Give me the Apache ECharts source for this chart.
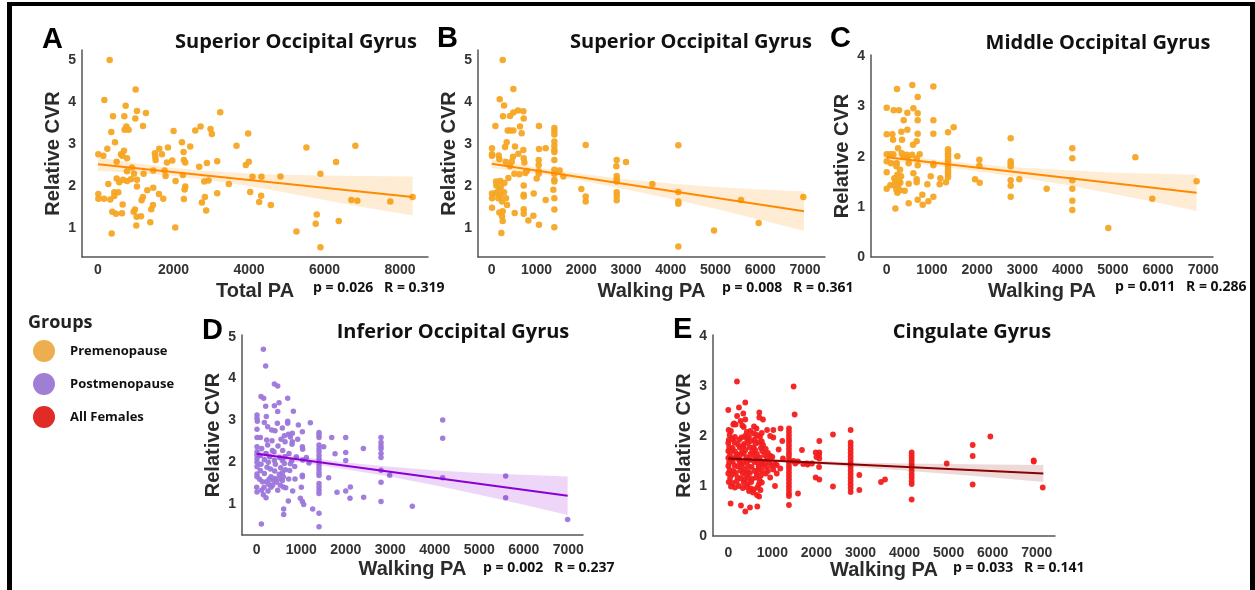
<!DOCTYPE html>
<html>
<head>
<meta charset="utf-8">
<script src="https://cdn.jsdelivr.net/npm/echarts@6/dist/echarts.min.js"></script>
<style>
	html, body { margin: 0; background: #fff; }
	#chart { width: 1255px; height: 590px; }
</style>
</head>
<body>
<div id="chart"></div>
<script>
// ---- data ----
const groups = ['Premenopause', 'Postmenopause', 'All Females'];
const panelLetters = ['A', 'B', 'C', 'D', 'E'];
const panelTitles = ['Superior Occipital Gyrus', 'Superior Occipital Gyrus', 'Middle Occipital Gyrus', 'Inferior Occipital Gyrus', 'Cingulate Gyrus'];
const xNames = ['Total PA', 'Walking PA', 'Walking PA', 'Walking PA', 'Walking PA'];
const stats = ['p = 0.026   R = 0.319', 'p = 0.008   R = 0.361', 'p = 0.011   R = 0.286', 'p = 0.002   R = 0.237', 'p = 0.033   R = 0.141'];

const totalTicks = [0, 2000, 4000, 6000, 8000];
const walkTicks = [0, 1000, 2000, 3000, 4000, 5000, 6000, 7000];
const cvrTicks15 = [1, 2, 3, 4, 5];
const cvrTicks04 = [0, 1, 2, 3, 4];

const aPoints = [
	[309,5.00],[997,4.30],[168,4.05],[732,3.91],[1032,3.79],[1270,3.74],[3237,3.76],[397,3.66],[697,3.66],[988,3.61],
	[1191,3.43],[750,3.42],[353,3.29],[706,3.34],[811,3.34],[2002,3.31],[2576,3.32],[2717,3.42],[2981,3.36],[3016,3.24],
	[3978,3.25],[450,3.04],[2223,3.04],[2443,2.94],[3669,2.96],[5521,2.92],[6818,2.96],[247,2.89],[688,2.84],[1852,2.92],
	[1623,2.89],[9,2.76],[141,2.72],[609,2.76],[644,2.72],[768,2.66],[1508,2.78],[1517,2.70],[1693,2.76],[1526,2.62],
	[1967,2.61],[1826,2.56],[2267,2.81],[2275,2.62],[2311,2.56],[2884,2.55],[3158,2.59],[494,2.58],[2681,2.46],[3916,2.50],
	[3996,2.58],[6306,2.57],[900,2.44],[1464,2.37],[1764,2.37],[953,2.29],[768,2.35],[1208,2.29],[2249,2.26],[4093,2.22],
	[4331,2.22],[4834,2.23],[5892,2.29],[494,2.18],[1790,2.24],[767,2.12],[564,2.09],[662,2.15],[873,2.16],[1032,2.15],
	[2055,2.12],[2814,2.11],[2928,2.13],[273,2.05],[1032,1.99],[1464,1.96],[2311,1.99],[2293,1.92],[3466,2.05],[1305,1.90],
	[4031,1.86],[432,1.85],[538,1.85],[3158,1.83],[1614,1.81],[9,1.81],[1191,1.74],[2831,1.74],[4322,1.77],[9,1.70],
	[159,1.70],[326,1.68],[432,1.76],[1729,1.70],[2275,1.69],[1155,1.66],[6712,1.67],[6871,1.65],[7744,1.63],[8335,1.74],
	[2752,1.61],[4269,1.62],[4578,1.55],[653,1.56],[1455,1.55],[1411,1.45],[2866,1.42],[379,1.39],[476,1.34],[635,1.35],
	[979,1.44],[944,1.39],[1023,1.27],[1138,1.28],[5795,1.32],[1385,1.14],[5768,1.10],[6377,1.17],[1014,1.06],[2046,1.01],
	[5257,0.92],[362,0.87],[5892,0.54]
];
const aLine = [[0, 2.52], [8335, 1.74]];
const aBandX = [0, 1000, 2000, 3000, 4000, 5000, 6000, 7000, 8335];
const aBandHi = [2.68, 2.55, 2.43, 2.35, 2.30, 2.27, 2.25, 2.24, 2.23];
const aBandLo = [2.36, 2.31, 2.24, 2.13, 2.00, 1.84, 1.67, 1.50, 1.30];

const bPoints = [
	[246,5.00],[484,4.31],[179,4.07],[276,3.92],[588,3.80],[707,3.78],[484,3.75],[253,3.66],[410,3.67],[715,3.61],
	[82,3.43],[633,3.42],[1057,3.43],[357,3.32],[410,3.32],[484,3.32],[1400,3.38],[1400,3.31],[1400,3.23],[670,3.26],
	[335,3.04],[1400,3.06],[1400,2.96],[2100,2.98],[4170,2.97],[521,2.94],[298,2.93],[7,2.90],[1057,2.88],[1206,2.90],
	[707,2.86],[1400,2.86],[7,2.76],[156,2.73],[596,2.77],[1400,2.81],[7,2.72],[476,2.70],[171,2.64],[715,2.66],
	[1050,2.62],[2793,2.62],[3001,2.57],[313,2.58],[2785,2.47],[1050,2.50],[447,2.58],[730,2.56],[1400,2.62],[410,2.47],
	[1400,2.39],[1400,2.29],[1519,2.37],[782,2.36],[752,2.31],[506,2.29],[618,2.28],[1050,2.35],[1050,2.29],[1601,2.23],
	[372,2.19],[1005,2.18],[2793,2.24],[2793,2.16],[1400,2.15],[194,2.12],[1400,2.11],[97,2.11],[283,2.07],[2793,2.11],
	[3590,2.05],[104,2.01],[715,2.01],[201,1.97],[2003,1.93],[149,1.88],[82,1.83],[1378,1.91],[2793,1.85],[4170,1.86],
	[276,1.85],[7,1.82],[715,1.79],[938,1.82],[194,1.77],[715,1.75],[2100,1.75],[2793,1.77],[7,1.71],[149,1.71],
	[320,1.71],[1400,1.71],[1206,1.67],[5570,1.67],[6963,1.74],[231,1.63],[2100,1.63],[2793,1.66],[4170,1.63],[4170,1.58],
	[343,1.55],[7,1.48],[715,1.45],[1400,1.44],[246,1.40],[171,1.37],[514,1.36],[715,1.34],[931,1.29],[231,1.28],
	[246,1.17],[819,1.18],[1057,1.08],[5965,1.12],[1400,1.02],[4967,0.94],[216,0.88],[4170,0.56]
];
const bLine = [[0, 2.53], [6978, 1.40]];
const bBandX = [0, 1000, 2000, 3000, 4000, 5000, 6000, 6978];
const bBandHi = [2.63, 2.44, 2.29, 2.16, 2.06, 1.98, 1.92, 1.87];
const bBandLo = [2.43, 2.30, 2.13, 1.92, 1.70, 1.46, 1.20, 0.93];

const cPoints = [
	[567,3.43],[1032,3.40],[228,3.35],[685,3.19],[0,2.98],[155,2.93],[273,2.93],[457,2.88],[590,2.97],[685,2.87],
	[376,2.73],[685,2.73],[1032,2.73],[0,2.45],[125,2.45],[324,2.50],[457,2.54],[685,2.46],[1032,2.46],[1356,2.49],
	[1481,2.59],[2741,2.37],[140,2.34],[339,2.34],[582,2.24],[663,2.31],[251,2.17],[1356,2.15],[1356,2.11],[1356,2.06],
	[4104,2.17],[5497,1.99],[4104,1.97],[1562,2.01],[0,2.05],[81,2.05],[147,2.05],[332,2.07],[442,2.04],[464,1.99],
	[560,2.04],[729,2.05],[663,1.97],[368,2.00],[1356,2.01],[1356,1.95],[2048,1.94],[0,1.91],[96,1.87],[221,1.87],
	[486,1.87],[685,1.83],[1032,1.86],[1032,1.83],[1356,1.91],[1356,1.85],[2048,1.82],[2741,1.91],[2741,1.86],[2741,1.81],
	[214,1.81],[295,1.74],[1356,1.80],[1356,1.74],[1356,1.69],[0,1.69],[236,1.64],[590,1.67],[317,1.61],[1356,1.64],
	[1356,1.59],[973,1.61],[1186,1.57],[169,1.57],[663,1.55],[663,1.49],[1953,1.55],[2932,1.55],[2741,1.53],[4104,1.53],
	[6852,1.51],[192,1.51],[280,1.51],[302,1.48],[1311,1.49],[2056,1.48],[81,1.43],[155,1.43],[251,1.43],[486,1.46],
	[899,1.45],[1171,1.45],[2741,1.42],[0,1.36],[214,1.34],[295,1.33],[398,1.32],[3537,1.36],[4104,1.36],[236,1.28],
	[788,1.24],[1032,1.20],[2741,1.20],[685,1.14],[921,1.11],[4104,1.12],[5872,1.16],[486,1.07],[796,1.04],[192,0.97],
	[4104,0.94],[4900,0.58]
];
const cLine = [[0, 1.99], [6852, 1.28]];
const cBandX = [0, 1000, 2000, 3000, 4000, 5000, 6000, 6852];
const cBandHi = [2.07, 1.95, 1.85, 1.78, 1.73, 1.68, 1.66, 1.64];
const cBandLo = [1.91, 1.83, 1.71, 1.58, 1.43, 1.26, 1.08, 0.92];

const dPoints = [
	[150,4.70],[202,4.30],[397,3.87],[472,3.82],[97,3.57],[157,3.53],[696,3.53],[502,3.42],[397,3.35],[202,3.34],
	[824,3.22],[472,3.21],[7,3.13],[7,3.05],[217,3.09],[696,2.98],[696,2.93],[1205,2.94],[4178,3.01],[15,2.98],
	[172,2.95],[464,2.93],[936,2.89],[247,2.85],[577,2.82],[7,2.79],[337,2.77],[412,2.75],[1026,2.73],[1400,2.71],
	[1400,2.65],[1400,2.59],[801,2.69],[711,2.67],[622,2.63],[756,2.60],[1685,2.59],[2000,2.59],[2793,2.59],[2793,2.47],
	[4178,2.57],[7,2.59],[82,2.59],[225,2.53],[344,2.51],[547,2.55],[921,2.55],[637,2.49],[247,2.41],[479,2.39],
	[801,2.49],[793,2.43],[2793,2.39],[1026,2.37],[1400,2.41],[1400,2.33],[1505,2.37],[7,2.37],[112,2.33],[352,2.28],
	[584,2.28],[389,2.25],[2396,2.33],[2793,2.32],[2793,2.21],[7,2.25],[210,2.21],[1033,2.31],[1400,2.25],[2000,2.23],
	[1760,2.20],[726,2.21],[7,2.17],[82,2.16],[292,2.13],[517,2.11],[637,2.13],[891,2.13],[1116,2.11],[1400,2.16],
	[1400,2.08],[2793,2.11],[7,2.08],[172,2.06],[397,2.04],[577,2.04],[786,2.03],[1033,2.05],[2000,2.04],[7,2.00],
	[262,2.00],[622,1.97],[1175,1.98],[1400,2.00],[97,1.95],[419,1.95],[756,1.96],[1400,1.91],[7,1.89],[232,1.88],
	[539,1.87],[854,1.90],[1400,1.83],[307,1.84],[644,1.82],[82,1.80],[404,1.79],[741,1.80],[2793,1.81],[7,1.72],
	[172,1.73],[509,1.71],[577,1.75],[1400,1.75],[2987,1.69],[7,1.65],[322,1.65],[599,1.65],[1026,1.69],[1400,1.68],
	[1617,1.63],[4178,1.63],[5593,1.67],[412,1.61],[502,1.61],[719,1.60],[861,1.60],[67,1.59],[277,1.59],[374,1.57],
	[1026,1.65],[127,1.53],[217,1.53],[449,1.52],[577,1.56],[1400,1.49],[2793,1.52],[269,1.47],[359,1.45],[531,1.45],
	[599,1.41],[0,1.40],[165,1.40],[322,1.40],[652,1.39],[1003,1.40],[1400,1.41],[2104,1.41],[1400,1.33],[472,1.33],
	[112,1.33],[7,1.29],[254,1.31],[809,1.31],[1804,1.28],[2000,1.31],[1400,1.25],[150,1.22],[210,1.15],[5593,1.15],
	[2403,1.16],[2096,1.14],[981,1.14],[711,1.07],[1026,1.06],[2793,1.06],[1056,0.99],[3496,0.95],[606,0.88],[1258,0.88],
	[606,0.75],[1400,0.78],[105,0.52],[1400,0.46],[6985,0.63]
];
const dLine = [[0, 2.20], [6985, 1.20]];
const dBandX = [0, 1000, 2000, 3000, 4000, 5000, 6000, 6985];
const dBandHi = [2.29, 2.13, 1.99, 1.89, 1.81, 1.74, 1.70, 1.66];
const dBandLo = [2.11, 1.99, 1.83, 1.65, 1.45, 1.22, 0.98, 0.74];

const ePoints = [
	[197,3.09],[1483,2.99],[1506,2.43],[386,2.67],[242,2.57],[341,2.45],[0,2.52],[704,2.47],[787,2.33],[704,2.37],
	[114,2.23],[167,2.23],[386,2.33],[318,2.21],[583,2.19],[8,2.12],[1188,2.15],[1022,2.12],[2777,2.12],[2376,2.03],
	[5948,1.99],[5547,1.82],[5547,1.60],[2066,1.90],[1022,1.97],[1226,1.90],[1672,1.72],[1143,1.73],[1983,1.67],[2066,1.67],
	[2066,1.55],[1786,1.45],[1582,1.49],[4957,1.45],[6932,1.51],[6932,1.49],[2974,1.22],[3557,1.13],[3466,1.08],[2066,1.13],
	[1983,1.17],[2376,0.99],[2974,0.92],[5547,1.03],[7137,0.97],[1582,0.85],[53,0.65],[288,0.61],[492,0.57],[386,0.49],
	[659,0.59],[4162,0.73],
	[30,2.02],[150,1.98],[300,1.97],[380,2.00],[470,1.99],[650,2.02],[720,1.98],
	[10,1.92],[90,1.94],[250,1.93],[420,1.95],[510,1.90],[600,1.93],[760,1.89],
	[0,1.86],[140,1.87],[220,1.83],[360,1.84],[440,1.88],[620,1.85],[700,1.87],[790,1.82],
	[20,1.78],[100,1.76],[260,1.77],[340,1.80],[480,1.78],[570,1.77],[740,1.76],[850,1.74],
	[0,1.70],[70,1.72],[150,1.69],[310,1.68],[390,1.72],[540,1.69],[610,1.72],[770,1.70],[900,1.66],
	[40,1.63],[190,1.64],[270,1.62],[350,1.65],[500,1.63],[580,1.61],[650,1.64],[820,1.62],[960,1.60],
	[0,1.56],[80,1.54],[160,1.57],[240,1.53],[410,1.57],[490,1.52],[640,1.54],[710,1.57],[880,1.55],[1000,1.58],
	[20,1.47],[100,1.49],[260,1.48],[340,1.46],[420,1.49],[590,1.48],[670,1.46],[750,1.49],[830,1.45],[940,1.47],[1060,1.44],
	[0,1.40],[140,1.41],[220,1.39],[300,1.42],[450,1.40],[530,1.38],[690,1.39],[770,1.42],[860,1.38],[980,1.40],[1100,1.42],
	[30,1.32],[120,1.30],[280,1.31],[360,1.34],[440,1.29],[600,1.30],[680,1.33],[760,1.31],[900,1.30],[1020,1.33],
	[0,1.25],[90,1.23],[170,1.26],[330,1.25],[410,1.23],[490,1.26],[650,1.24],[740,1.21],[850,1.25],
	[40,1.16],[210,1.17],[290,1.15],[370,1.13],[460,1.16],[540,1.14],[630,1.17],[710,1.12],[950,1.17],
	[10,1.08],[100,1.06],[190,1.09],[350,1.07],[440,1.04],[520,1.08],[690,1.03],[760,1.07],
	[60,0.99],[150,0.97],[240,1.00],[330,0.96],[420,0.98],[510,0.95],[580,0.93],[660,0.97],[730,0.92],
	[470,0.90],[560,0.87],[650,0.82],[700,0.79],
	[60,2.10],[130,2.25],[200,2.40],[280,2.30],[350,2.18],[420,2.08],[500,2.10],[580,2.05],[640,2.15],[760,2.06],[880,2.12],[950,2.00],
	[1377,2.15],[1377,2.08],[1377,2.01],[1377,1.94],[1377,1.88],[1377,1.81],[1377,1.74],[1377,1.67],[1377,1.61],[1377,1.54],
	[1377,1.47],[1377,1.40],[1377,1.34],[1377,1.27],[1377,1.20],[1377,1.13],[1377,1.06],[1377,0.99],[1377,0.92],[1377,0.85],[1377,0.80],[1377,0.62],
	[1480,1.50],[1520,1.45],[1700,1.44],[1800,1.43],[1900,1.45],[2000,1.58],[2060,1.62],[2060,1.38],[1240,1.55],[1180,1.35],[1100,1.25],[1060,1.00],
	[2777,1.87],[2777,1.80],[2777,1.73],[2777,1.66],[2777,1.59],[2777,1.52],[2777,1.45],[2777,1.38],
	[2777,1.31],[2777,1.24],[2777,1.17],[2777,1.10],[2777,1.03],[2777,0.96],[2777,0.88],
	[4162,1.67],[4162,1.61],[4162,1.55],[4162,1.49],[4162,1.43],[4162,1.37],[4162,1.30],[4162,1.23],[4162,1.17],[4162,1.10],[4162,1.04]
];
const eLine = [[0, 1.55], [7150, 1.25]];
const eBandX = [0, 1000, 2000, 3000, 4000, 5000, 6000, 7150];
const eBandHi = [1.59, 1.54, 1.50, 1.47, 1.45, 1.44, 1.43, 1.42];
const eBandLo = [1.51, 1.48, 1.44, 1.37, 1.31, 1.24, 1.17, 1.08];

// ---- layout / styling ----
const TICK_FONT = '"Liberation Sans", Arial, sans-serif';
const TITLE_FONT = '"Open Sans", sans-serif';
const INK = '#333';

const panels = [
	{ grid: { left: 82, top: 50, width: 346, height: 207 }, x: [-424, 8742], y: [0.31, 5.24], xt: totalTicks, yt: cvrTicks15,
		pts: aPoints, line: aLine, bx: aBandX, hi: aBandHi, lo: aBandLo, dot: '#F6A523', size: 6.5, lc: '#FF8A00', band: 'rgba(255,140,0,0.17)',
		letter: [42, 40], title: [296, 42], stat: [313, 288], xMargin: 6 },
	{ grid: { left: 478, top: 50, width: 347, height: 207 }, x: [-306, 7447], y: [0.31, 5.24], xt: walkTicks, yt: cvrTicks15,
		pts: bPoints, line: bLine, bx: bBandX, hi: bBandHi, lo: bBandLo, dot: '#F6A523', size: 6.5, lc: '#FF8A00', band: 'rgba(255,140,0,0.17)',
		letter: [437, 39], title: [691, 42], stat: [722, 288], xMargin: 6 },
	{ grid: { left: 871, top: 55, width: 342, height: 202 }, x: [-347, 7214], y: [0, 4.03], xt: walkTicks, yt: cvrTicks04,
		pts: cPoints, line: cLine, bx: cBandX, hi: cBandHi, lo: cBandLo, dot: '#F6A523', size: 6.5, lc: '#FF8A00', band: 'rgba(255,140,0,0.17)',
		letter: [830, 39], title: [1098, 43], stat: [1115, 287], xMargin: 6 },
	{ grid: { left: 242, top: 335, width: 341, height: 200 }, x: [-330, 7330], y: [0.26, 5.04], xt: walkTicks, yt: cvrTicks15,
		pts: dPoints, line: dLine, bx: dBandX, hi: dBandHi, lo: dBandLo, dot: '#9C76DA', size: 5.5, lc: '#8A00D4', band: 'rgba(148,0,211,0.16)',
		letter: [202, 331], title: [453, 332], stat: [483, 568], xMargin: 8 },
	{ grid: { left: 713, top: 335, width: 342, height: 201 }, x: [-347, 7415], y: [0, 4.02], xt: walkTicks, yt: cvrTicks04,
		pts: ePoints, line: eLine, bx: eBandX, hi: eBandHi, lo: eBandLo, dot: '#F21D1D', size: 5.8, lc: '#8B0000', band: 'rgba(139,0,0,0.15)',
		letter: [673, 330], title: [972, 332], stat: [953, 568], xMargin: 10 }
];

const axisLine = { show: true, onZero: false, lineStyle: { color: '#555', width: 1.5 } };
const tickLabel = { color: INK, fontFamily: TICK_FONT, fontWeight: 'bold', fontSize: 14, formatter: v => String(v) };
const axisName = { color: '#2b2b2b', fontFamily: TICK_FONT, fontWeight: 'bold', fontSize: 20 };

const grid = [], xAxis = [], yAxis = [], series = [], graphic = [];

panels.forEach((p, i) => {
	grid.push(Object.assign({ containLabel: false }, p.grid));
	xAxis.push({
		type: 'value', gridIndex: i, min: p.x[0], max: p.x[1],
		axisLine, axisTick: { show: false }, splitLine: { show: false },
		axisLabel: Object.assign({ customValues: p.xt, margin: p.xMargin }, tickLabel),
		name: xNames[i], nameLocation: 'middle', nameGap: 24, nameTextStyle: axisName
	});
	yAxis.push({
		type: 'value', gridIndex: i, min: p.y[0], max: p.y[1],
		axisLine, axisTick: { show: false }, splitLine: { show: false },
		axisLabel: Object.assign({ customValues: p.yt, margin: 6 }, tickLabel),
		name: 'Relative CVR', nameLocation: 'middle', nameGap: 19, nameTextStyle: axisName
	});

	series.push({
		type: 'scatter', xAxisIndex: i, yAxisIndex: i, data: p.pts,
		symbolSize: p.size, itemStyle: { color: p.dot, opacity: 0.95 }, z: 2
	});
	series.push({
		type: 'custom', xAxisIndex: i, yAxisIndex: i, silent: true, z: 3,
		data: [[p.bx[0], p.lo[0]]],
		renderItem: (params, api) => {
			const top = p.bx.map((x, k) => api.coord([x, p.hi[k]]));
			const bottom = p.bx.map((x, k) => api.coord([x, p.lo[k]])).reverse();
			return { type: 'polygon', shape: { points: top.concat(bottom) }, style: { fill: p.band } };
		}
	});
	series.push({
		type: 'line', xAxisIndex: i, yAxisIndex: i, data: p.line,
		symbol: 'none', lineStyle: { color: p.lc, width: 2 }, z: 4, silent: true
	});

	graphic.push({
		type: 'text', x: p.letter[0], y: p.letter[1],
		style: { text: panelLetters[i], font: 'bold 29px ' + TICK_FONT, fill: '#000', align: 'left', verticalAlign: 'middle' }
	});
	graphic.push({
		type: 'text', x: p.title[0], y: p.title[1],
		style: { text: panelTitles[i], font: 'bold 20px ' + TITLE_FONT, fill: '#111', align: 'center', verticalAlign: 'middle' }
	});
	graphic.push({
		type: 'text', x: p.stat[0], y: p.stat[1],
		style: { text: stats[i], font: 'bold 14px ' + TITLE_FONT, fill: '#111', align: 'left', verticalAlign: 'middle' }
	});
});

// legend block
const legendColors = ['#EDAE4F', '#A07ED6', '#E02B27'];
graphic.push({
	type: 'text', x: 28, y: 323,
	style: { text: 'Groups', font: 'bold 18px ' + TITLE_FONT, fill: '#222', align: 'left', verticalAlign: 'middle' }
});
groups.forEach((g, k) => {
	const cy = 351 + k * 33;
	graphic.push({ type: 'circle', shape: { cx: 44, cy, r: 11 }, style: { fill: legendColors[k] } });
	graphic.push({
		type: 'text', x: 70, y: cy,
		style: { text: g, font: 'bold 13px ' + TITLE_FONT, fill: '#111', align: 'left', verticalAlign: 'middle' }
	});
});

// frame
graphic.push({ type: 'rect', shape: { x: 7, y: 2, width: 1248, height: 4 }, style: { fill: '#000' } });
graphic.push({ type: 'rect', shape: { x: 7, y: 2, width: 5, height: 588 }, style: { fill: '#000' } });
graphic.push({ type: 'rect', shape: { x: 1250, y: 2, width: 5, height: 588 }, style: { fill: '#000' } });

const chart = echarts.init(document.getElementById('chart'));
chart.setOption({
	animation: false,
	backgroundColor: '#fff',
	grid, xAxis, yAxis, series, graphic
});
</script>
</body>
</html>
